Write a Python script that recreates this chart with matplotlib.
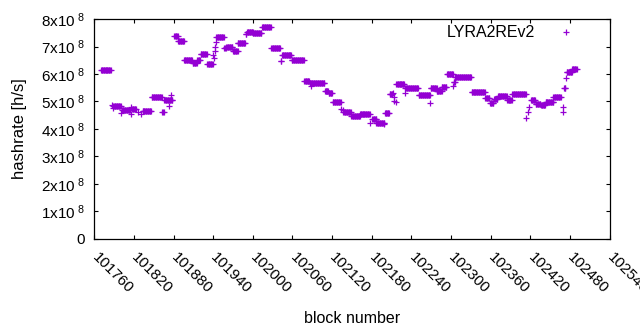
import numpy as np
import matplotlib
matplotlib.use("Agg")
import matplotlib.pyplot as plt

plt.rcParams['font.family'] = ['Liberation Sans', 'DejaVu Sans']
plt.rcParams['mathtext.fontset'] = 'custom'
plt.rcParams['mathtext.rm'] = 'Liberation Sans'
plt.rcParams['mathtext.it'] = 'Liberation Sans'

# tramos de hashrate constante: bloque inicial, bloque final, valor (x1e8 h/s)
run_start = [101770, 101787, 101788, 101789, 101801, 101802, 101815, 101816, 101817, 101826,
             101830, 101833, 101847, 101863, 101866, 101873, 101876, 101881, 101887, 101896,
             101909, 101916, 101921, 101931, 101940, 101941, 101942, 101943, 101944, 101945,
             101957, 101960, 101970, 101977, 101989, 101991, 102000, 102014, 102028, 102042,
             102044, 102059, 102078, 102086, 102088, 102109, 102115, 102121, 102134, 102136,
             102137, 102149, 102162, 102177, 102181, 102187, 102199, 102200, 102207, 102212,
             102213, 102214, 102216, 102217, 102230, 102231, 102251, 102268, 102269, 102278,
             102286, 102294, 102303, 102304, 102306, 102331, 102352, 102359, 102365, 102371,
             102385, 102393, 102414, 102416, 102418, 102421, 102428, 102436, 102443, 102455,
             102469, 102470, 102471, 102474, 102475, 102483]
run_end = [101785, 101787, 101788, 101800, 101801, 101814, 101815, 101816, 101823, 101826,
           101830, 101846, 101862, 101865, 101878, 101873, 101876, 101886, 101896, 101908,
           101915, 101920, 101930, 101939, 101940, 101941, 101942, 101943, 101944, 101956,
           101959, 101969, 101977, 101988, 101990, 102000, 102013, 102027, 102041, 102043,
           102058, 102077, 102085, 102108, 102088, 102114, 102120, 102133, 102134, 102136,
           102148, 102162, 102177, 102177, 102187, 102199, 102199, 102206, 102211, 102212,
           102213, 102214, 102216, 102229, 102230, 102250, 102268, 102268, 102278, 102286,
           102293, 102303, 102303, 102306, 102330, 102351, 102358, 102364, 102370, 102384,
           102392, 102413, 102414, 102416, 102418, 102427, 102435, 102442, 102455, 102466,
           102469, 102470, 102473, 102474, 102483, 102490]
run_value = [6.13, 4.87, 4.75, 4.82, 4.57, 4.69, 4.53, 4.81, 4.71, 4.60,
             4.53, 4.64, 5.15, 4.62, 5.07, 4.84, 5.24, 7.40, 7.19, 6.50,
             6.39, 6.50, 6.73, 6.36, 6.70, 6.60, 6.84, 7.00, 7.17, 7.33,
             6.93, 7.00, 6.83, 7.12, 7.45, 7.54, 7.48, 7.72, 6.93, 6.47,
             6.68, 6.51, 5.75, 5.66, 5.56, 5.40, 5.30, 4.98, 4.72, 4.68,
             4.63, 4.49, 4.53, 4.21, 4.36, 4.21, 4.17, 4.57, 5.26, 5.30,
             5.15, 5.00, 4.97, 5.63, 5.30, 5.48, 5.24, 4.96, 5.48, 5.38,
             5.53, 6.00, 5.56, 5.70, 5.90, 5.33, 5.12, 4.93, 5.09, 5.20,
             5.05, 5.27, 4.41, 4.60, 4.81, 5.05, 4.90, 4.87, 4.98, 5.16,
             4.81, 4.63, 5.50, 5.84, 6.08, 6.20]

bloques = np.concatenate([np.arange(s, e + 1) for s, e in zip(run_start, run_end)])
hashrate = np.concatenate([np.full(e - s + 1, v * 1e8)
                           for s, e, v in zip(run_start, run_end, run_value)])

xticks = list(range(101760, 102541, 60))
yticks = [i * 1e8 for i in range(9)]
ylabels = ['0'] + [f'{i}x10$^{{\\ 8}}$' for i in range(1, 9)]

fig = plt.figure(figsize=(6.4, 3.3), dpi=100)
ax = fig.add_axes([0.1473, 0.2758, 0.8052, 0.6666])

ax.plot(bloques, hashrate, linestyle='none', marker='+', markersize=5,
        markeredgewidth=0.9, color='#9400d3', label='LYRA2REv2')

ax.set_xlim(101760, 102540)
ax.set_ylim(0, 8e8)
ax.set_xticks(xticks)
ax.set_xticklabels([str(t) for t in xticks], rotation=-45, ha='left', va='center',
                   rotation_mode='anchor')
ax.set_yticks(yticks)
ax.set_yticklabels(ylabels)
ax.tick_params(direction='in', length=3, width=0.8, top=True, right=True,
               labelsize=11, colors='black')
ax.tick_params(axis='x', pad=12)
ax.tick_params(axis='y', pad=7)
for s in ax.spines.values():
    s.set_linewidth(0.9)

ax.set_xlabel('block number', fontsize=11.5, labelpad=10)
ax.set_ylabel('hashrate [h/s]', fontsize=12, labelpad=10)

ax.legend(loc='upper right', frameon=False, markerfirst=False, fontsize=11.5,
          handlelength=1.5, handletextpad=1.2, borderaxespad=0.0,
          bbox_to_anchor=(0.952, 1.0))

fig.savefig('out.png', dpi=100)
